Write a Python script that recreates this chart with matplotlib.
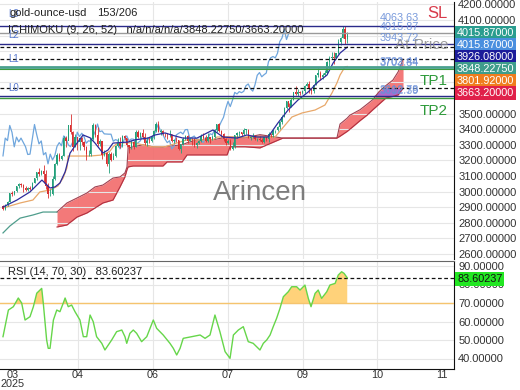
import numpy as np
import matplotlib
matplotlib.use('Agg')
import matplotlib.pyplot as plt

plt.rcParams['font.family'] = ['Liberation Sans', 'DejaVu Sans']

# ---------------- candles (daily, Mar 10 2025 .. Oct 10 2025) ----------------
opens = [2910, 2888, 2916, 2934, 2988, 2984, 3001, 3035, 3048, 3044, 3023, 3011, 3020, 3019, 3057, 3084,
         3124, 3113, 3133, 3114, 3037, 2982, 2982, 3082, 3175, 3237, 3210, 3229, 3343, 3327, 3424, 3380, 3287, 3349, 3319, 3343, 3316,
         3288, 3238, 3240, 3334, 3430, 3364, 3306, 3325, 3236, 3250, 3178, 3240, 3203, 3229, 3290, 3314, 3294, 3357, 3342, 3300, 3288, 3318,
         3289, 3381, 3353, 3374, 3353, 3310, 3326, 3322, 3354, 3386, 3433, 3384, 3389, 3370, 3369, 3368, 3368, 3323, 3333, 3328, 3274,
         3303, 3338, 3357, 3326, 3337, 3336, 3301, 3313, 3325, 3355, 3343, 3324, 3347, 3338, 3350, 3397, 3431, 3387, 3368, 3337, 3314, 3326, 3274,
         3290, 3363, 3373, 3381, 3369, 3397, 3398, 3342, 3348, 3356, 3335, 3336, 3332, 3315, 3347, 3338, 3371, 3365, 3393, 3397, 3416,
         3448, 3476, 3533, 3578, 3545, 3586, 3636, 3626, 3641, 3634, 3643, 3679, 3690, 3659, 3644, 3685, 3746, 3763, 3736, 3749, 3760, 3833,
         3858, 3866, 3857, 3887, 3961, 3985, 4040, 3975]
highs = [2915, 2922, 2940, 2992, 3005, 3004, 3038, 3057, 3058, 3046, 3036, 3030, 3033, 3060, 3087, 3128,
         3149, 3139, 3168, 3136, 3055, 3018, 3099, 3181, 3245, 3245, 3232, 3357, 3358, 3430, 3500, 3387, 3370, 3352, 3345, 3348, 3326,
         3290, 3269, 3337, 3437, 3433, 3414, 3335, 3326, 3265, 3252, 3252, 3253, 3250, 3296, 3345, 3347, 3366, 3365, 3345, 3300, 3330, 3325,
         3392, 3393, 3385, 3404, 3376, 3348, 3349, 3360, 3397, 3445, 3451, 3403, 3395, 3375, 3373, 3395, 3372, 3340, 3350, 3330, 3305,
         3350, 3365, 3365, 3345, 3343, 3345, 3318, 3330, 3368, 3375, 3366, 3377, 3346, 3360, 3402, 3434, 3439, 3396, 3373, 3345, 3334, 3334, 3315,
         3363, 3385, 3390, 3385, 3409, 3400, 3404, 3358, 3375, 3361, 3345, 3357, 3345, 3350, 3351, 3379, 3376, 3394, 3398, 3423, 3453,
         3490, 3540, 3578, 3565, 3600, 3640, 3674, 3655, 3647, 3650, 3685, 3703, 3707, 3661, 3688, 3750, 3791, 3776, 3760, 3780, 3835, 3872,
         3895, 3897, 3889, 3977, 3990, 4059, 4063, 4022]
lows = [2880, 2881, 2906, 2933, 2970, 2980, 2999, 3024, 3032, 3000, 3007, 3007, 3012, 3015, 3054, 3076,
        3100, 3105, 3055, 3015, 2957, 2970, 2980, 3073, 3170, 3194, 3205, 3229, 3285, 3328, 3370, 3260, 3283, 3265, 3268, 3300, 3267,
        3202, 3226, 3230, 3330, 3352, 3290, 3293, 3208, 3227, 3166, 3121, 3195, 3206, 3220, 3283, 3277, 3287, 3331, 3286, 3245, 3276, 3271,
        3287, 3343, 3346, 3340, 3300, 3294, 3314, 3316, 3340, 3381, 3382, 3366, 3362, 3348, 3340, 3349, 3315, 3312, 3316, 3265, 3249,
        3298, 3333, 3311, 3326, 3296, 3283, 3282, 3305, 3320, 3340, 3320, 3319, 3310, 3330, 3344, 3383, 3381, 3351, 3325, 3301, 3308, 3268, 3268,
        3281, 3346, 3358, 3359, 3362, 3372, 3341, 3331, 3345, 3331, 3325, 3323, 3311, 3311, 3323, 3321, 3350, 3351, 3374, 3386, 3402,
        3436, 3475, 3530, 3511, 3541, 3584, 3620, 3610, 3620, 3627, 3632, 3675, 3631, 3628, 3634, 3681, 3733, 3717, 3722, 3740, 3757, 3792,
        3850, 3820, 3847, 3880, 3940, 3983, 3944, 3950]
closes = [2888, 2916, 2934, 2988, 2984, 3001, 3035, 3048, 3044, 3023, 3011, 3020, 3019, 3057, 3084, 3124,
          3113, 3133, 3114, 3037, 2982, 2982, 3082, 3175, 3237, 3210, 3229, 3343, 3327, 3424, 3380, 3287, 3349, 3319, 3343, 3316, 3288,
          3238, 3240, 3334, 3430, 3364, 3306, 3325, 3236, 3250, 3178, 3240, 3203, 3229, 3290, 3314, 3294, 3357, 3342, 3300, 3288, 3318, 3289,
          3381, 3353, 3374, 3353, 3310, 3326, 3322, 3354, 3386, 3433, 3384, 3389, 3370, 3369, 3368, 3368, 3323, 3333, 3328, 3274, 3303,
          3338, 3357, 3326, 3337, 3336, 3301, 3313, 3325, 3355, 3343, 3324, 3347, 3338, 3350, 3397, 3431, 3387, 3368, 3337, 3314, 3326, 3274, 3290,
          3363, 3373, 3381, 3369, 3397, 3398, 3342, 3348, 3356, 3335, 3336, 3332, 3315, 3347, 3338, 3371, 3365, 3393, 3397, 3416, 3448,
          3476, 3533, 3578, 3545, 3586, 3636, 3626, 3641, 3634, 3643, 3679, 3690, 3659, 3644, 3685, 3746, 3763, 3736, 3749, 3760, 3833, 3858,
          3866, 3857, 3887, 3961, 3985, 4040, 3975, 4015.87]

# ---------------- Ichimoku lines ----------------
tenkan_x = [0, 6.2, 12, 17.3, 20.9, 23.1, 25.3, 27.6, 29.8, 32.9, 35.6, 38.7, 40.9, 44.4, 46.7, 48.9, 55.6, 58.7,
            64.4, 67.6, 72, 75.6, 80, 86.2, 90.7, 93.3, 97.8, 104, 108.4, 112.9, 117.8, 122.2, 126.7, 131.1, 135.6,
            140, 144, 146.7, 149.8, 153]
tenkan_y = [2901, 2946, 2998, 3074, 3023, 3030, 3055, 3126, 3247, 3311, 3363, 3345, 3311, 3247, 3267, 3311, 3318, 3332,
            3343, 3363, 3376, 3360, 3343, 3343, 3376, 3395, 3350, 3343, 3363, 3350, 3350, 3440, 3523, 3587, 3638,
            3703, 3747, 3824, 3888, 3926.08]
kijun_x = [0, 7.6, 13.3, 16.4, 20.9, 24.4, 26.7, 28.4, 28.9, 38.7, 44.4, 47.6, 48.9, 51.1, 57.8, 66.2, 72, 81.8,
           93.3, 95.1, 114.2, 120.9, 128.4, 132.9, 138.7, 143.1, 146.2, 148.4, 149.8, 152, 153]
kijun_y = [2895, 2927, 2946, 2998, 3010, 3036, 3087, 3152, 3228, 3228, 3235, 3260, 3287, 3313, 3313, 3287, 3287, 3332,
           3332, 3350, 3350, 3350, 3478, 3504, 3523, 3555, 3632, 3696, 3747, 3800, 3801.92]
span_pre_x = [0, 3.1, 7.6, 13.3, 17.8, 24]
span_pre_y = [2735, 2780, 2830, 2850, 2869, 2869]
cloud_x = [24, 28.4, 32.9, 37.3, 40.9, 44.4, 48.9, 52, 54.2, 55.1, 55.6, 57.8, 62.2, 66.7, 71.1, 72.9, 79.6, 81.8,
           86.2, 93.3, 99.6, 100.9, 107.6, 114.2, 124.4, 148.4, 149.8, 152.9, 154.2, 158.7, 161.8, 164.4, 167.1,
           170.2, 173.3, 175.6, 177.8]
senkou_a = [2869, 2927, 2959, 2991, 3030, 3042, 3087, 3094, 3120, 3158, 3280, 3287, 3300, 3287, 3285, 3290, 3300, 3313,
            3332, 3332, 3350, 3350, 3345, 3365, 3343, 3343, 3433, 3470, 3490, 3525, 3560, 3590, 3640,
            3680, 3715, 3767, 3848.2275]
senkou_b = [2773, 2786, 2837, 2863, 2895, 2927, 2946, 3030, 3094, 3140, 3158, 3164, 3164, 3164, 3164, 3190, 3190, 3235,
            3235, 3235, 3235, 3287, 3287, 3280, 3343, 3343, 3355, 3385, 3400, 3455, 3490, 3525, 3560,
            3600, 3610, 3620, 3663.2]

# ---------------- RSI ----------------
rsi_x = [0, 2.4, 4.6, 6.8, 8.3, 9.8, 12, 13.5, 15, 17.2, 17.9, 19.4, 20.1, 20.9, 22.4, 23.9, 25.3, 26.8, 27.6, 29,
         30.5, 32, 34.2, 35.7, 37.2, 38.7, 40.1, 41.6, 43.9, 45.3, 46.8, 48.3, 50.5, 52.8, 54.2, 55, 56.4, 57.9, 59.4,
         61.6, 63.9, 66.8, 68.3, 71.2, 74.2, 75.7, 77.2, 78.7, 80.1, 83.9, 87.6, 89.8, 92, 94.2, 96.4, 98.7, 100.9,
         102.4, 104.6, 106.8, 109, 111.2, 114.2, 115.7, 117.2, 118.7, 120.1, 121.6, 123.1, 124.6, 126.8, 128.3, 130.5,
         132, 134.2, 135.7, 136.9, 138.7, 140.1, 141.6, 143.9, 145.3, 147.6, 149, 150.5, 151.6, 153]
rsi_y = [51.8, 66.2, 68, 72.7, 70, 60.8, 62.6, 68, 75.3, 77.9, 70, 50, 45.5, 45.5, 60.8, 66.2, 65.3, 70, 72.7, 68,
         68.9, 65.3, 60.8, 51.8, 51.8, 63.5, 59.9, 51.8, 48.2, 44.6, 47.3, 50, 54.5, 55.4, 51.8, 48.2, 53.6, 55.4, 53.6,
         49.1, 51.8, 60.8, 56.3, 52.7, 48.2, 45.5, 41.9, 45.5, 50.9, 51.8, 52.7, 50.9, 52.7, 63.5, 54.5, 43.7, 40.1,
         52.7, 55.4, 57.2, 49.1, 48.2, 44.6, 48.2, 50, 52.7, 57.2, 61.7, 67.1, 73.4, 76.1, 78.8, 78.8,
         77, 79.7, 72.5, 68, 75.2, 77, 72.5, 76.1, 79.7, 80.6, 85.1, 86.9, 86, 83.60237]

# ---------------- levels ----------------
level_sl = 4063.63
level_last = 4015.87
level_at = 3943.72
level_tenkan = 3926.08
level_spanA = 3848.2275
level_tp1 = 3797.0
level_spanB = 3663.2
level_lo = 3612.78
level_tp2 = 3600.0
rsi_last = 83.60237

x_ticks = [4.4, 33.3, 66.7, 100, 133.3, 166.2, 195.1]
x_labels = ['03\n2025', '04', '06', '07', '09', '10', '11']
price_ticks = [2600, 2700, 2800, 2900, 3000, 3100, 3200, 3300, 3400, 3500, 3600, 3700, 3800, 3900, 4000, 4100, 4200]
rsi_ticks = [40, 50, 60, 70, 80, 90]

# ---------------- figure ----------------
W, H = 520, 390
fig = plt.figure(figsize=(W / 100, H / 100), dpi=100)
ax = fig.add_axes([0, 1 - 259 / H, 454 / W, 257 / H])
ax2 = fig.add_axes([0, 1 - 369 / H, 454 / W, 108 / H], sharex=ax)

o = np.array(opens, float); h = np.array(highs, float)
l = np.array(lows, float); c = np.array(closes, float)
xb = np.arange(len(c))

ax.set_xlim(-3 / 2.25, -3 / 2.25 + 454 / 2.25)
ax.set_ylim(4100 - (259 - 20) / 0.156, 4100 + 18 / 0.156)
ax2.set_ylim(70 + (303 - 369) / 1.85, 70 + (303 - 261) / 1.85)

gridc = '#e6e6e6'
ax.set_yticks(price_ticks)
ax.grid(axis='y', color=gridc, lw=0.8, zorder=0)
ax2.set_yticks(rsi_ticks)
ax2.grid(axis='y', color=gridc, lw=0.8, zorder=0)
for xv in x_ticks[1:6]:
    ax.axvline(xv, color=gridc, lw=0.8, zorder=0)
    ax2.axvline(xv, color=gridc, lw=0.8, zorder=0)

# cloud
sa = np.array(senkou_a); sb = np.array(senkou_b)
ax.fill_between(cloud_x, sa, sb, color='#f26b6b', alpha=0.9, lw=0, zorder=1)
# overlap of the cloud with the shaded level band
ax.fill_between(cloud_x, np.clip(sb, level_lo, level_spanB), np.clip(sa, level_lo, level_spanB),
                color='#a46ad6', alpha=0.9, lw=0, zorder=1.5)
ax.plot(cloud_x, sa, color='#a04050', lw=0.8, zorder=2)
ax.plot(cloud_x, sb, color='#b03040', lw=0.8, zorder=2)
ax.plot(span_pre_x, span_pre_y, color='#4f9d8c', lw=0.9, zorder=2)

# chikou and kijun
ax.plot(xb[:-26], c[26:], color='#6fa6dd', lw=0.9, zorder=3)
ax.plot(kijun_x, kijun_y, color='#e8a86a', lw=0.9, zorder=3)

# candles
up = c >= o
cols = np.where(up, '#23a07a', '#d83030')
ax.vlines(xb, l, h, colors=cols, lw=0.6, zorder=4)
ax.bar(xb, np.maximum(np.abs(c - o), 3), bottom=np.minimum(o, c), width=0.6, color=cols, lw=0, zorder=4)
ax.plot(tenkan_x, tenkan_y, color='#2c2c9c', lw=0.9, zorder=5)

# level lines
ax.axhline(level_sl, color='#2a2a8a', lw=1.0, zorder=6)
ax.axhline(level_last, color='#9a9a9a', lw=1.0, zorder=6)
ax.axhline(level_at, color='#2a2a8a', lw=1.0, zorder=6)
ax.axhline(level_tenkan, color='#111111', lw=0.9, ls=(0, (3, 2)), zorder=6)
ax.axhline(level_spanA, color='#111111', lw=0.9, ls=(0, (3, 2)), zorder=6)
ax.axhline(level_tp1, color='#4aa090', lw=2.0, zorder=6)
ax.axhline(level_tp1 - 8, color='#3c9a3c', lw=0.8, zorder=6)
ax.axhline(level_spanB, color='#111111', lw=0.9, ls=(0, (3, 2)), zorder=6)
ax.axhline(level_lo, color='#2a2a8a', lw=1.0, zorder=6)
ax.axhline(level_tp2, color='#3c9a3c', lw=1.0, zorder=6)

# RSI
rx = np.array(rsi_x); ry = np.array(rsi_y)
ax2.fill_between(rx, ry, 70, where=ry > 70, interpolate=True, color='#ffd27a', lw=0, zorder=2)
ax2.axhline(70, color='#f5c46e', lw=1.0, zorder=3)
ax2.axhline(rsi_last, color='#111111', lw=0.9, ls=(0, (3, 2)), zorder=3)
ax2.plot(rx, ry, color='#66d64a', lw=1.0, zorder=4)

# axes styling
for a in (ax, ax2):
    a.yaxis.tick_right()
    a.tick_params(axis='y', length=0, pad=3, labelsize=8, labelcolor='#333333')
    a.spines['left'].set_visible(False)
    a.spines['right'].set_color('#111111')
ax.spines['top'].set_visible(False)
ax.spines['bottom'].set_visible(False)
ax2.spines['top'].set_color('#666666')
ax2.spines['bottom'].set_color('#111111')
ax.set_yticklabels(['%.5f' % v if v not in (3600, 3700, 3800, 3900, 4000) else '' for v in price_ticks])
ax2.set_yticklabels(['%.5f' % v for v in rsi_ticks])
ax.tick_params(axis='x', which='both', bottom=False, labelbottom=False)
ax2.set_xticks(x_ticks)
ax2.set_xticklabels(x_labels, linespacing=0.85)
ax2.tick_params(axis='x', length=0, pad=1, labelsize=7.8, labelcolor='#333333')


def ftxt(px, py, s, **kw):
    fig.text(px / W, 1 - py / H, s, va='center', **kw)


# header texts
ftxt(8, 14, 'L3', fontsize=7, color='#5a7bd0')
ftxt(10, 13, 'gold-ounce-usd', fontsize=8, color='#222222')
ftxt(97, 13, '153/206', fontsize=8, color='#222222')
ftxt(8, 30, 'ICHIMOKU (9, 26, 52)   n/a/n/a/n/a/3848.22750/3663.20000', fontsize=8, color='#222222')
ftxt(8, 35, 'L2', fontsize=7, color='#5a7bd0')
ftxt(8, 59, 'L1', fontsize=7, color='#5a7bd0')
ftxt(8, 88, 'L0', fontsize=7, color='#5a7bd0')

# level value labels
for py, s in [(18, '4063.63'), (27, '4015.87'), (38, '3943.72'), (62, '3702.44'), (62.5, '3703.84'),
              (90, '3612.78'), (90.5, '3602.39')]:
    ftxt(380, py, s, fontsize=7.8, color='#6a8fd8', alpha=0.9)

ftxt(448, 13, 'SL', fontsize=12, color='#d83a4a', ha='right')
ftxt(448, 45, 'At Price', fontsize=11, color='#8a8a8a', ha='right', alpha=0.85)
ftxt(448, 81, 'TP1', fontsize=11, color='#2e9a3a', ha='right')
ftxt(448, 111, 'TP2', fontsize=11, color='#2e9a3a', ha='right')
ftxt(260, 193, 'Arincen', fontsize=20, color='#6f6f6f', ha='center', alpha=0.9)

# right colored labels
for py, s, fc in [(33, '4015.87000', '#2a9d8f'), (45, '4015.87000', '#4a8fdf'), (57, '3926.08000', '#1c1c9a'),
                  (69, '3848.22750', '#3f9d8c'), (81, '3801.92000', '#f07d1e'), (93, '3663.20000', '#e0204a')]:
    ftxt(457, py, s, fontsize=7.8, color='white',
         bbox=dict(boxstyle='square,pad=0.15', fc=fc, ec='none'))

# RSI texts
ftxt(8, 272, 'RSI (14, 70, 30)   83.60237', fontsize=8, color='#222222')
ftxt(457, 279, '83.60237', fontsize=7.8, color='#111111',
     bbox=dict(boxstyle='square,pad=0.15', fc='#22e622', ec='none'))

fig.savefig('out.png', dpi=100)
